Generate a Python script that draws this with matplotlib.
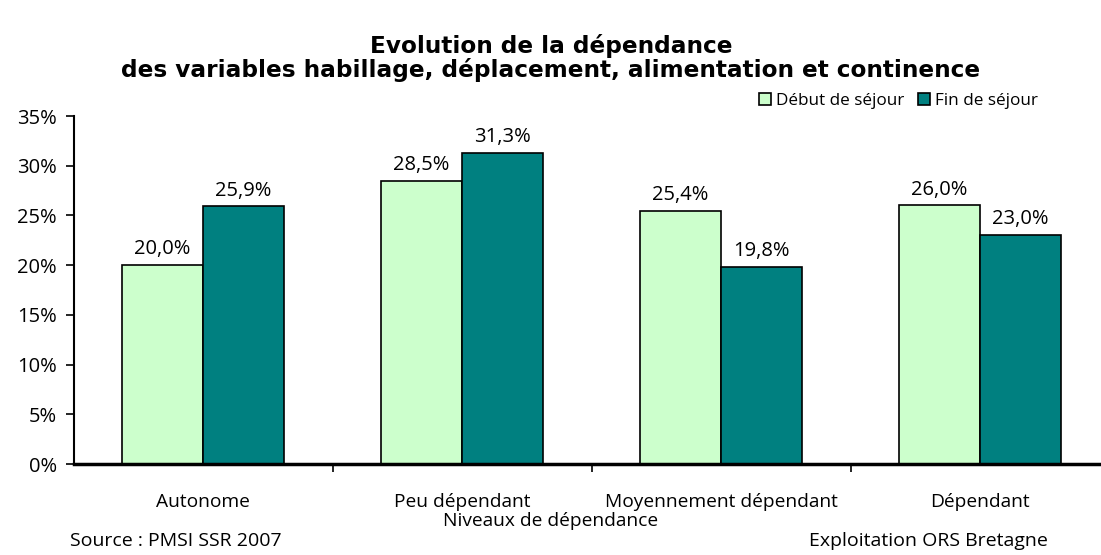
import matplotlib
matplotlib.use("Agg")
import matplotlib.pyplot as plt
import numpy as np

plt.rcParams['font.family'] = ['Open Sans', 'DejaVu Sans']

categories = ["Autonome", "Peu dépendant", "Moyennement dépendant", "Dépendant"]
debut = [20.0, 28.5, 25.4, 26.0]
fin = [25.9, 31.3, 19.8, 23.0]
series_names = ["Début de séjour", "Fin de séjour"]
yticks = [0, 5, 10, 15, 20, 25, 30, 35]

fig = plt.figure(figsize=(11.01, 5.55), dpi=100)
W, H = 1101, 555
x0, x1 = 73.5, 1109.5
ytop, ybot = 116, 464
ax = fig.add_axes([x0 / W, 1 - ybot / H, (x1 - x0) / W, (ybot - ytop) / H])

x = np.arange(len(categories))
bw = 0.313
ax.bar(x - bw / 2, debut, bw, color="#ccffcc", edgecolor="black", linewidth=1.2, label=series_names[0], zorder=2)
ax.bar(x + bw / 2, fin, bw, color="#008080", edgecolor="black", linewidth=1.2, label=series_names[1], zorder=2)

for xi, v in zip(x - bw / 2, debut):
    ax.text(xi, v + 0.6, f"{v:.1f}%".replace(".", ","), ha="center", va="bottom", fontsize=14.5)
for xi, v in zip(x + bw / 2, fin):
    ax.text(xi, v + 0.6, f"{v:.1f}%".replace(".", ","), ha="center", va="bottom", fontsize=14.5)

ax.set_xlim(-0.5, len(categories) - 0.5)
ax.set_ylim(0, 35)
ax.set_yticks(yticks)
ax.set_yticklabels([f"{t}%" for t in yticks], fontsize=14.5)
ax.set_xticks(x)
ax.set_xticklabels(categories, fontsize=13.8)
ax.tick_params(axis='x', length=0, pad=21)
ax.set_xticks(np.arange(0.5, len(categories) - 0.5, 1), minor=True)
ax.tick_params(axis='x', which='minor', length=6, width=1.2, direction='out')
ax.tick_params(axis='y', length=6, width=1.2, direction='out', pad=6)
ax.spines['top'].set_visible(False)
ax.spines['right'].set_visible(False)
ax.spines['left'].set_linewidth(1.5)
ax.spines['bottom'].set_linewidth(2.5)
ax.spines['bottom'].set_zorder(3)

fig.text(551 / W, 1 - 58 / H, "Evolution de la dépendance\ndes variables habillage, déplacement, alimentation et continence",
         ha="center", va="center", fontsize=16.7, fontweight="bold", linespacing=1.05,
         family=['DejaVu Sans'])
fig.text(551 / W, 1 - 521 / H, "Niveaux de dépendance", ha="center", va="center", fontsize=13.8)
fig.text(70 / W, 1 - 541 / H, "Source : PMSI SSR 2007", ha="left", va="center", fontsize=14)
fig.text(1048 / W, 1 - 541 / H, "Exploitation ORS Bretagne", ha="right", va="center", fontsize=14)

leg = fig.legend(loc="center right", bbox_to_anchor=(1038 / W, 1 - 101 / H), ncol=2, frameon=False,
                 fontsize=12.3, handlelength=0.7, handleheight=0.7, handletextpad=0.3, columnspacing=0.8,
                 borderpad=0, borderaxespad=0)

fig.savefig("out.png", dpi=100)
